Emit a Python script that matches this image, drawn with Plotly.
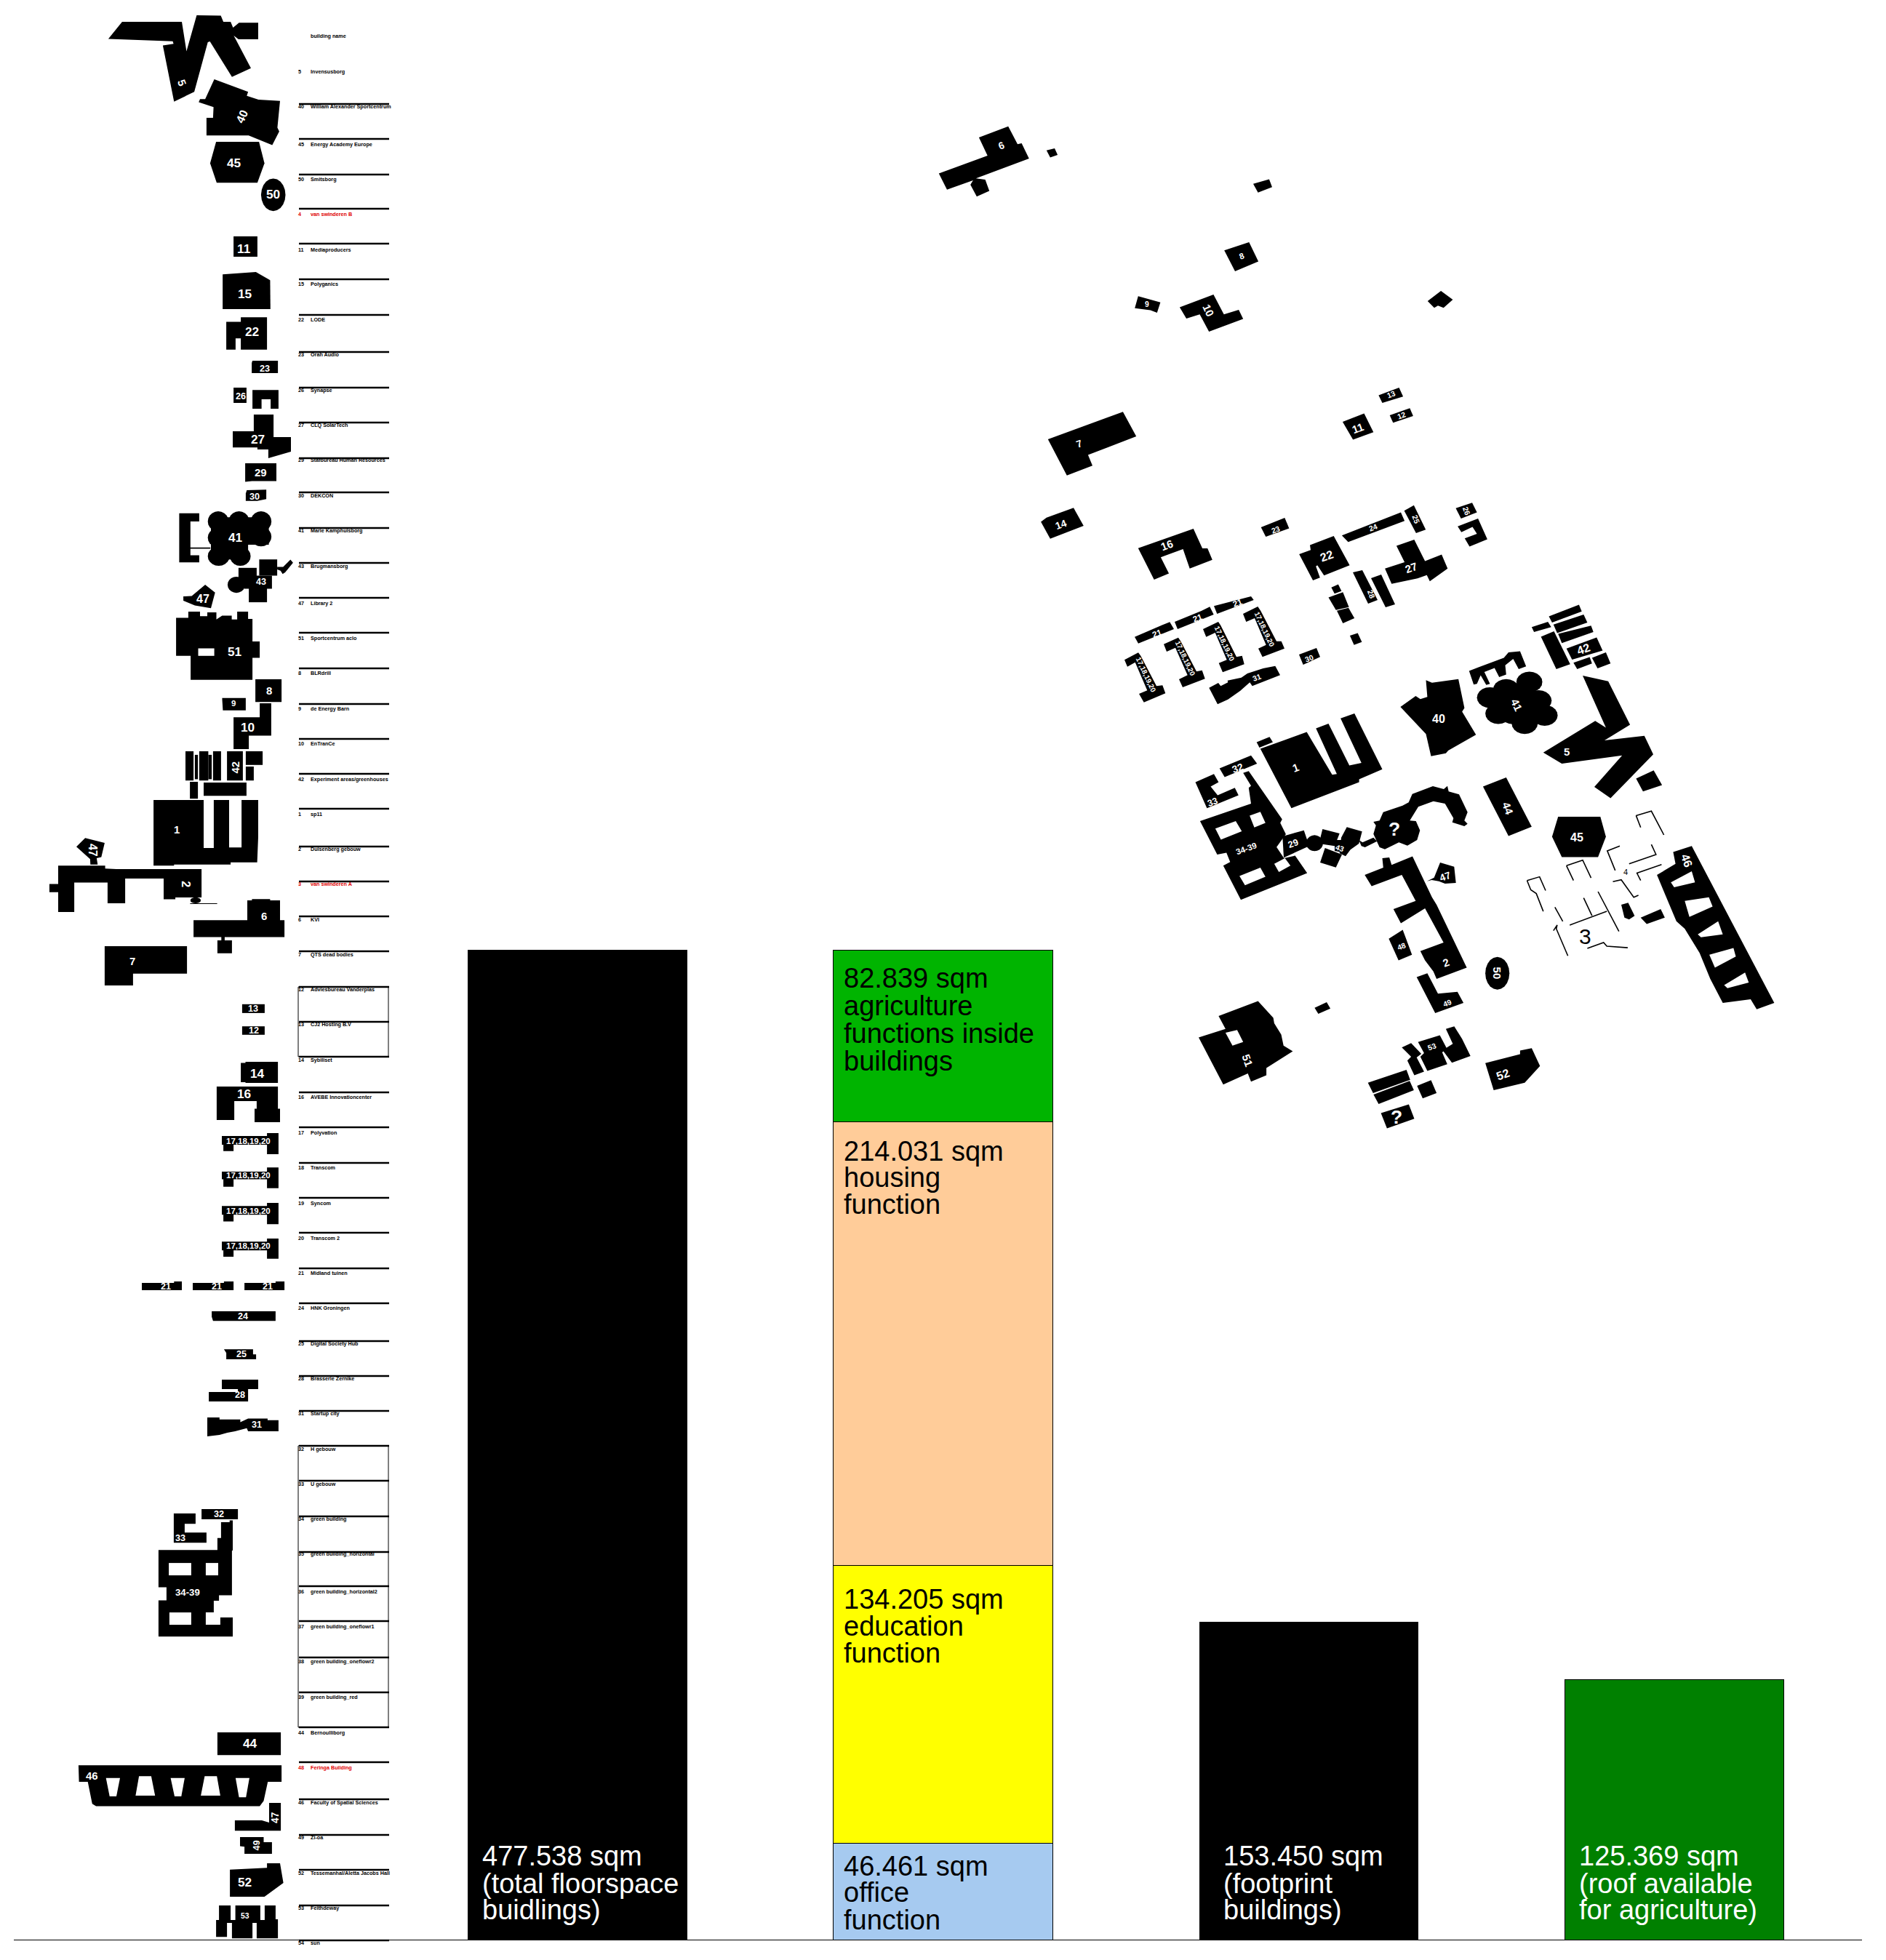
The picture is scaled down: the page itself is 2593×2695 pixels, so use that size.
import math
import plotly.graph_objects as go

W, H = 2593, 2695
PAGE_MARGIN = 8  # the page body's own margin

# ---------- chart values ----------
BAR_CATEGORIES = ["total floorspace", "functions", "footprint", "roof"]
TOTAL_FLOORSPACE = 477538
OFFICE = 46461
EDUCATION = 134205
HOUSING = 214031
AGRICULTURE = 82839
FOOTPRINT = 153450
ROOF = 125369

TABLE_NUMBERS = ["", "5", "40", "45", "50", "4", "11", "15", "22", "23", "26", "27", "29", "30", "41", "43", "47", "51", "8", "9", "10", "42", "1", "2", "3", "6", "7", "12", "13", "14", "16", "17", "18", "19", "20", "21", "24", "25", "28", "31", "32", "33", "34", "35", "36", "37", "38", "39", "44", "48", "46", "49", "52", "53", "54"]
TABLE_NAMES = ["building name", "Invensusborg", "William Alexander Sportcentrum", "Energy Academy Europe", "Smitsborg", "van swinderen B", "Mediaproducers", "Polyganics", "LODE", "Orah Audio", "Synapse", "CLQ SolarTech", "Stafbureau Human Resources", "DEKCON", "Marie Kamphuisborg", "Brugmansborg", "Library 2", "Sportcentrum aclo", "BLRdrill", "de Energy Barn", "EnTranCe", "Experiment areas/greenhouses", "sp11", "Duisenberg gebouw", "van swinderen A", "KVI", "QTS dead bodies", "Adviesbureau Vanderplas", "CJ2 Hosting B.V", "Sybiliset", "AVEBE Innovationcenter", "Polyvation", "Transcom", "Syncom", "Transcom 2", "Midland tuinen", "HNK Groningen", "Digital Society Hub", "Brasserie Zernike", "Startup city", "H gebouw", "U gebouw", "green building", "green building_horizontal", "green building_horizontal2", "green building_oneflowr1", "green building_oneflowr2", "green building_red", "Bernoulliborg", "Feringa Building", "Faculty of Spatial Sciences", "Zi-oa", "Tessemanhal/Aletta Jacobs Hall", "Feithdeway", "sun"]
TABLE_RED = {"4", "3", "48"}

# ---------- layout constants ----------
TABLE_Y = [50, 99, 147, 199, 247, 295, 344, 391.5, 440, 488, 537, 585, 633, 682, 730, 779, 830, 878, 926, 975, 1023, 1072, 1120, 1168, 1216.5, 1265, 1313, 1361, 1409, 1458, 1509, 1558, 1606, 1655, 1703, 1751, 1799, 1848, 1896, 1944, 1993, 2041, 2089, 2137, 2189, 2237, 2285, 2334, 2383, 2431, 2479, 2527, 2576, 2624, 2672]
RULE_Y = [143, 191, 240, 287, 335, 384, 433, 484, 533, 581, 630, 677, 726, 774, 822, 870, 919, 968, 1016, 1064, 1112, 1164, 1212, 1260, 1308, 1357, 1405, 1453, 1502, 1550, 1599, 1647, 1695, 1744, 1792, 1844, 1892, 1940, 1988, 2036, 2085, 2134, 2181, 2229, 2279, 2327, 2375, 2423, 2474, 2523, 2571, 2620, 2668]

BASE_PX = 2667
PX_PER_SQM = 0.00285
BAR0 = 794
BAR_STEP = 502.7

Z1 = (0, 0, 2.8, 2.24)
Z2 = (0, 700, 2.8, 2.24)
Z3 = (0, 1400, 2.8, 2.412)
Z4 = (0, 2045, 2.8, 2.412)
Z5 = (1250, 130, 1.96, 2.24)
Z6 = (1500, 800, 1.568, 1.96)
Z7 = (1720, 1060, 3, 3)
Z8 = (1540, 820, 3, 3)


def R(a, b, c, d):
    return [(a, b), (c, b), (c, d), (a, d)]


def E(cx, cy, rx, ry, n=20):
    return [(cx + rx * math.cos(2 * math.pi * i / n), cy + ry * math.sin(2 * math.pi * i / n)) for i in range(n)]


SOLID = {
    Z1: [
        [(417,120),(470,67),(700,67),(718,158),(757,47),(850,48),(860,67),(888,67),(897,85),(920,70),(994,70),(994,121),(918,121),(900,110),(966,210),(893,237),(808,128),(800,130),(748,283),(670,313),(627,140),(668,135),(665,127)],
        [(825,244),(955,283),(950,295),(995,307),(1078,311),(1068,393),(1075,405),(1048,447),(957,417),(795,417),(795,363),(820,363),(822,330),(765,315),(770,305),(790,305)],
        [(832,437),(997,437),(1018,503),(991,563),(834,563),(809,503)],
        E(1052,600,47,50),
        R(899,728,991,791),
        [(857,845),(985,838),(1040,863),(1041,952),(857,952)],
        [(871,991),(927,991),(927,977),(1028,977),(1028,1077),(927,1077),(927,1042),(907,1042),(907,1077),(871,1077)],
        [(972,1111),(1070,1111),(1070,1149),(969,1149),(969,1118)],
        R(899,1194,949,1241),
        [(972,1201),(1072,1201),(1072,1259),(1042,1259),(1042,1230),(1007,1230),(1007,1259),(972,1259)],
        [(977,1277),(1053,1277),(1053,1346),(1120,1346),(1120,1391),(1033,1411),(1033,1384),(991,1384),(991,1378),(896,1378),(896,1328),(977,1328)],
        [(944,1427),(1064,1427),(1064,1482),(970,1482),(944,1484)],
        [(950,1510),(1025,1508),(1025,1537),(990,1543),(946,1543),(946,1520)],
    ],
    Z2: [
        [(690,13),(767,13),(767,38),(733,38),(733,118),(810,118),(810,122),(733,122),(733,142),(767,142),(767,164),(690,164)],
        E(840,38,40,31),E(920,38,40,31),E(1005,38,40,31),E(840,88,40,30),E(925,85,45,35),E(1005,85,40,30),E(842,145,42,30),E(925,145,40,30),
        R(812,25,1035,110),R(812,110,955,155),
        E(910,233,34,25),R(918,181,988,240),R(998,155,1067,205),R(958,240,1028,287),R(940,205,1047,245),
        [(1067,178),(1090,178),(1118,156),(1128,165),(1098,195),(1088,200),(1080,190),(1067,186)],
        [(790,233),(828,257),(812,305),(750,297),(706,282),(706,269),(738,268)],
        [(678,335),(725,335),(725,316),(770,316),(770,330),(798,330),(798,318),(833,318),(833,340),(855,328),(892,328),(892,340),(913,340),(913,316),(955,316),(955,338),(972,338),(972,408),(1000,408),(1000,458),(972,458),(972,526),(734,526),(734,452),(678,452)],
        R(983,524,1084,594),
        [(855,582),(946,582),(946,620),(858,620)],
        [(1000,598),(1044,598),(1044,698),(958,698),(958,739),(899,739),(899,641),(1000,641)],
        R(714,746,745,836),R(750,757,762,832),R(767,746,802,836),R(802,757,815,832),R(820,746,851,836),R(874,746,935,836),R(946,746,1011,788),R(946,793,977,836),R(731,840,762,892),R(784,842,949,883),
        [(591,896),(784,896),(784,1044),(823,1044),(823,896),(882,896),(882,1042),(930,1042),(930,896),(994,896),(994,1010),(990,1088),(888,1088),(888,1095),(670,1095),(670,1098),(591,1098)],
        [(328,1013),(403,1028),(390,1072),(372,1075),(376,1095),(348,1095),(347,1078),(294,1040)],
        [(224,1098),(405,1098),(405,1107),(448,1109),(776,1109),(776,1196),(675,1196),(675,1202),(630,1202),(630,1138),(482,1138),(482,1214),(414,1214),(414,1150),(286,1150),(286,1241),(224,1241),(224,1180),(190,1180),(190,1155),(224,1155)],
        E(753,1205,20,9),R(732,1214,836,1216),
        [(952,1205),(970,1205),(970,1201),(1040,1201),(1040,1205),(1078,1205),(1078,1266),(1095,1266),(1095,1318),(865,1318),(865,1328),(893,1328),(893,1368),(837,1368),(837,1328),(852,1328),(852,1318),(745,1318),(745,1266),(952,1266)],
        [(403,1346),(720,1346),(720,1431),(512,1431),(512,1467),(403,1467)],
        R(932,1525,1019,1552),
    ],
    Z3: [
        R(932,27,1019,55),
        [(945,145),(1070,145),(1070,215),(945,215),(945,212),(927,212),(927,148),(945,148)],
        [(834,227),(1070,227),(1070,300),(1078,300),(1078,345),(980,345),(980,300),(988,300),(988,275),(902,275),(902,338),(834,338)],
        [(1028,381),(1072,381),(1072,451),(1028,451),(1028,420),(899,420),(899,441),(860,441),(860,420),(854,420),(854,391),(1028,391)],
        [(1028,495),(1072,495),(1072,564),(1028,564),(1028,534),(899,534),(899,559),(860,559),(860,534),(854,534),(854,509),(1028,509)],
        [(1028,613),(1072,613),(1072,683),(1028,683),(1028,652),(899,652),(899,674),(860,674),(860,652),(854,652),(854,623),(1028,623)],
        [(1028,731),(1072,731),(1072,798),(1028,798),(1028,770),(899,770),(899,791),(860,791),(860,770),(854,770),(854,741),(1028,741)],
        [(546,878),(670,878),(670,873),(700,873),(700,902),(546,902)],
        [(742,878),(862,878),(862,873),(899,873),(899,902),(742,902)],
        [(941,878),(1061,878),(1061,873),(1095,873),(1095,902),(941,902)],
        [(815,972),(1061,972),(1061,1004),(820,1004),(815,990)],
        [(862,1098),(974,1098),(974,1115),(986,1115),(986,1131),(871,1131),(871,1110)],
        [(854,1199),(994,1199),(994,1230),(955,1230),(955,1271),(804,1271),(804,1240),(916,1240),(916,1230),(854,1230)],
        [(798,1324),(845,1324),(845,1331),(925,1331),(925,1340),(955,1328),(1030,1328),(1030,1333),(1072,1333),(1072,1370),(955,1370),(950,1360),(905,1370),(875,1375),(845,1382),(798,1387)],
    ],
    Z4: [
        R(776,72,916,106),
        [(669,87),(753,87),(753,121),(711,121),(711,150),(795,150),(795,184),(669,184)],
        [(884,110),(896,110),(896,210),(893,210),(893,358),(843,358),(843,376),(823,376),(823,415),(792,415),(792,456),(848,456),(848,432),(896,432),(896,495),(610,495),(610,375),(641,375),(641,332),(610,332),(610,208),(837,208),(837,168),(851,168),(851,116),(884,116)],
        R(837,813,1081,888),
        [(302,922),(1084,922),(1084,977),(1031,977),(1015,1040),(1000,1058),(370,1058),(355,1050),(338,977),(304,977)],
        [(904,1105),(1008,1105),(1036,1112),(1036,1047),(1081,1047),(1081,1139),(904,1139)],
        [(924,1160),(1015,1160),(1015,1177),(1047,1177),(1047,1216),(941,1216),(941,1192),(924,1190)],
        [(885,1268),(1028,1262),(1028,1247),(1078,1247),(1091,1312),(1018,1358),(885,1358)],
        [(843,1387),(888,1387),(888,1435),(906,1435),(906,1387),(1002,1387),(1002,1435),(1019,1435),(1019,1387),(1061,1387),(1061,1433),(1070,1433),(1070,1496),(988,1496),(988,1445),(972,1445),(972,1496),(893,1496),(893,1445),(874,1445),(874,1491),(832,1491),(832,1435),(843,1435)],
    ],
    Z5: [
        [(80,243),(211,188),(188,132),(267,98),(292,153),(303,150),(323,197),(180,258),(205,262),(216,297),(182,314),(165,278),(172,264),(102,293)],
        [(370,172),(392,166),(400,186),(380,194)],
        [(927,275),(970,261),(978,285),(940,302)],
        [(849,480),(916,455),(941,514),(878,544)],
        [(617,621),(677,640),(668,672),(650,664),(608,658)],
        [(729,655),(820,616),(848,677),(888,663),(900,691),(808,730),(783,677),(747,690)],
        [(1397,636),(1433,605),(1465,632),(1440,657),(1425,650),(1415,657)],
        [(374,1062),(576,977),(612,1053),(482,1110),(494,1143),(425,1173)],
        [(1265,926),(1320,903),(1331,930),(1275,950)],
        [(1295,988),(1349,966),(1358,990),(1304,1011)],
        [(1168,1008),(1226,982),(1251,1040),(1196,1063)],
        [(355,1316),(370,1303),(443,1273),(470,1328),(380,1368)],
        [(948,1333),(1012,1304),(1024,1336),(961,1362)],
        [(617,1397),(766,1337),(790,1398),(804,1398),(817,1433),(756,1460),(738,1400),(678,1425),(700,1475),(660,1494)],
        [(1051,1416),(1082,1403),(1080,1388),(1144,1360),(1187,1450),(1118,1481),(1100,1450),(1096,1453),(1107,1488),(1088,1496)],
        [(1166,1358),(1325,1287),(1335,1313),(1183,1378)],
        [(1334,1282),(1360,1265),(1392,1340),(1366,1351)],
        [(1473,1274),(1517,1257),(1530,1287),(1487,1306)],
        [(1478,1330),(1533,1306),(1558,1370),(1510,1392),(1497,1367),(1530,1353),(1518,1332),(1488,1348)],
        [(1313,1390),(1361,1371),(1390,1437),(1435,1417),(1451,1460),(1403,1499),(1395,1480),(1370,1490),(1300,1507),(1282,1460),(1335,1440)],
    ],
    (0, 0, 1, 1): [
        [(1860,787),(1873,784),(1894,825),(1881,830)],
        [(1885,795),(1899,790),(1918,831),(1905,835)],
    ],
    Z8: [
        [(18,262),(75,232),(85,245),(150,370),(175,367),(187,400),(98,437),(78,402),(112,388),(62,272),(30,290)],
        [(180,197),(240,170),(250,185),(315,310),(338,305),(350,340),(258,375),(243,342),(278,325),(228,212),(192,228)],
        [(342,135),(405,105),(415,120),(480,250),(503,245),(512,280),(423,313),(407,275),(440,262),(392,150),(355,167)],
        [(507,72),(568,42),(580,60),(645,185),(665,185),(678,215),(587,250),(570,215),(602,200),(555,90),(520,105)],
        [(60,167),(175,118),(205,106),(222,135),(75,194)],
        [(225,105),(335,60),(370,43),(386,75),(237,135)],
        [(387,40),(540,0),(551,15),(400,72)],
        [(738,240),(810,213),(825,250),(755,282)],
        [(367,377),(405,357),(415,370),(445,355),(443,347),(500,335),(525,318),(590,297),(640,287),(660,325),(545,370),(535,355),(495,390),(445,425),(402,445)],
    ],
    Z7: [
        [(130,270),(218,245),(240,310),(135,358)],
        E(262,298,35,33),
        [(295,240),(365,258),(345,310),(280,300)],
        [(395,232),(458,250),(445,300),(410,325),(390,352),(365,340),(372,275)],
        [(305,318),(375,345),(350,398),(285,378)],
        [(345,285),(385,285),(395,340),(345,330)],
        [(445,285),(460,295),(505,275),(520,290),(470,315),(455,310)],
        [(545,170),(625,143),(650,130),(665,95),(750,63),(795,75),(810,62),(815,85),(858,97),(893,170),(880,205),(893,218),(880,228),(830,212),(835,195),(800,135),(752,125),(690,148),(655,205),(680,207),(697,245),(685,285),(645,308),(610,295),(552,323),(530,315),(505,260),(515,225),(505,210),(530,205)],
        [(780,378),(838,395),(845,462),(800,465),(775,455),(745,450),(725,455),(755,440)],
    ],
    Z6: [
        [(518,15),(533,7),(540,25),(525,32)],
        [(512,42),(543,28),(556,68),(528,76)],
        [(530,78),(555,70),(568,98),(543,112)],
        [(558,145),(575,138),(584,162),(567,170)],
        [(667,337),(700,308),(710,316),(725,310),(722,265),(735,272),(792,262),(805,340),(800,350),(830,412),(770,455),(765,462),(733,470),(722,410)],
        [(815,240),(890,205),(900,190),(925,187),(938,228),(922,235),(910,208),(893,225),(895,250),(880,257),(870,232),(848,243),(860,275),(852,278),(840,252),(832,275),(825,277)],
        E(945,270,28,28),E(965,320,28,28),E(978,360,28,28),E(935,382,28,28),E(878,355,28,28),E(860,312,28,28),E(895,290,28,28),E(918,330,55,55),
        [(987,93),(1052,62),(1058,80),(994,110)],
        [(997,115),(1062,88),(1070,110),(1005,138)],
        [(1007,140),(1078,118),(1083,135),(1015,165)],
        [(1025,180),(1090,150),(1103,185),(1037,210)],
        [(1040,218),(1075,203),(1080,220),(1048,235)],
        [(1080,205),(1110,190),(1120,220),(1092,233)],
        [(950,122),(985,108),(992,122),(955,135)],
        [(970,148),(998,133),(1033,222),(1003,235)],
        [(1060,253),(1115,268),(1162,385),(1107,427),(1193,415),(1212,465),(1120,583),(1085,553),(1145,468),(1015,490),(975,460),(1087,375),(1110,393)],
        [(1175,530),(1213,508),(1231,548),(1190,565)],
        [(365,450),(465,405),(520,520),(530,518),(485,395),(512,382),(557,495),(583,488),(538,368),(568,355),(628,505),(578,532),(578,540),(432,610)],
        [(357,432),(385,418),(392,432),(363,447)],
        [(277,503),(345,468),(358,490),(288,526)],
        [(225,540),(265,518),(275,540),(258,552),(273,575),(310,555),(318,575),(250,610)],
        [(235,645),(345,598),(340,555),(345,550),(328,515),(340,510),(412,640),(408,650),(420,680),(400,715),(416,745),(440,738),(466,785),(323,857),(285,765),(300,755),(292,730),(272,735)],
        [(845,552),(895,527),(950,660),(900,685)],
        [(1007,633),(1098,633),(1110,687),(1093,742),(1015,742),(994,687)],
        [(1143,870),(1158,865),(1172,900),(1160,910),(1150,905)],
        [(1185,905),(1228,882),(1237,905),(1198,922)],
        [(1255,728),(1295,712),(1473,1135),(1435,1152),(1422,1125),(1362,1135),(1335,1070),(1312,1000),(1280,935),(1262,915),(1220,790),(1260,760)],
        [(590,790),(630,770),(628,745),(643,743),(648,763),(693,740),(735,850),(745,870),(810,1040),(745,1070),(738,1050),(720,1020),(710,995),(760,972),(720,880),(668,920),(652,882),(700,860),(670,790),(605,820)],
        [(642,962),(672,938),(692,1005),(663,1020)],
        [(702,1065),(725,1055),(748,1110),(790,1105),(803,1135),(742,1162)],
        E(876,1055,26,44),
        [(482,1148),(508,1133),(516,1150),(490,1164)],
        [(275,1170),(360,1130),(393,1175),(395,1190),(410,1220),(415,1250),(435,1265),(378,1310),(378,1330),(345,1347),(338,1325),(285,1355),(232,1228),(290,1205)],
        [(670,1255),(690,1243),(712,1272),(702,1282),(718,1320),(697,1330),(682,1290),(690,1280)],
        [(705,1240),(752,1222),(767,1258),(757,1268),(768,1300),(725,1318),(710,1280),(718,1270)],
        [(765,1205),(783,1198),(800,1232),(818,1278),(778,1296),(758,1262),(780,1245)],
        [(850,1297),(925,1273),(925,1263),(950,1257),(968,1305),(935,1350),(868,1370)],
        [(597,1350),(680,1315),(688,1342),(608,1378)],
        [(609,1382),(687,1345),(696,1370),(620,1407)],
        [(703,1358),(733,1343),(745,1378),(715,1392)],
        [(625,1432),(685,1408),(697,1447),(638,1473)],
    ],
}

HOLES = {
    Z2: [R(763,429,825,452)],
    Z4: [
        R(650,251,736,292),R(792,251,840,292),R(652,415,736,456),
        [(408,964),(462,964),(448,1025),(422,1025)],
        [(535,958),(582,958),(597,1023),(522,1023)],
        [(657,964),(711,964),(698,1025),(672,1025)],
        [(788,958),(835,958),(848,1023),(773,1023)],
        [(907,964),(960,964),(947,1028),(920,1028)],
    ],
    Z6: [
        [(268,665),(312,645),(325,672),(280,695)],
        [(342,630),(365,620),(376,650),(352,662)],
        [(320,793),(365,770),(376,795),(332,818)],
        [(395,760),(418,745),(430,765),(405,782)],
        [(1250,810),(1295,780),(1302,810),(1257,823)],
        [(1280,860),(1332,850),(1340,875),(1290,903)],
        [(1308,950),(1352,915),(1362,950),(1315,958)],
        [(1333,1005),(1385,987),(1390,1010),(1345,1040)],
        [(1365,1087),(1410,1053),(1418,1080),(1372,1095)],
        [(290,1215),(315,1208),(328,1240),(305,1250)],
    ],
}

WIRES_Z6 = [
    [(1175,630),(1208,618),(1235,682)],[(1175,630),(1185,662)],
    [(1140,712),(1113,725),(1130,778)],[(1208,708),(1218,735),(1160,760)],
    [(1025,765),(1060,750),(1078,798)],[(1025,765),(1040,805)],
    [(1230,762),(1177,785),(1185,805)],[(940,805),(967,795),(980,832)],
    [(940,805),(948,830),(960,840),(975,888)],[(1125,808),(1143,803),(1170,850),(1180,845)],
    [(1000,877),(1017,915)],[(1062,852),(1080,900)],[(1093,835),(1138,942)],
    [(1032,925),(1112,888)],[(997,940),(1005,925),(1003,935),(1028,1008)],
    [(1070,988),(1105,972),(1112,982),(1157,986)],
]

# text, x, y, size, angle, frame
BUILDING_TEXT = [
    ("5",700,255,13,70,Z1),("40",930,358,14,-65,Z1),("45",902,502,15,0,Z1),("50",1052,598,15,0,Z1),("11",940,765,15,0,Z1),("15",943,905,15,0,Z1),("22",969,1021,15,0,Z1),("23",1018,1136,11,0,Z1),("26",926,1220,11,0,Z1),("27",993,1354,15,0,Z1),("29",1003,1454,13,0,Z1),("30",980,1529,11,0,Z1),
    ("41",908,88,15,0,Z2),("43",1006,225,11,0,Z2),("47",780,275,14,0,Z2),("51",904,438,15,0,Z2),("8",1035,558,13,0,Z2),("9",898,599,10,0,Z2),("10",954,672,15,0,Z2),("42",906,795,13,-90,Z2),("1",681,986,13,0,Z2),("47",358,1050,14,90,Z2),("2",716,1156,14,90,Z2),("6",1016,1254,13,0,Z2),("7",509,1393,13,0,Z2),("13",975,1538,11,0,Z2),
    ("12",977,41,11,0,Z3),("14",991,183,15,0,Z3),("16",940,250,15,0,Z3),("17,18,19,20",957,407,10,0,Z3),("17,18,19,20",957,522,10,0,Z3),("17,18,19,20",957,640,10,0,Z3),("17,18,19,20",957,756,10,0,Z3),("21",637,891,11,0,Z3),("21",834,891,11,0,Z3),("21",1029,891,11,0,Z3),("24",935,988,11,0,Z3),("25",929,1114,11,0,Z3),("28",924,1250,11,0,Z3),("31",987,1348,11,0,Z3),
    ("32",843,90,11,0,Z4),("33",694,168,11,0,Z4),("34-39",722,348,11.5,0,Z4),("44",962,849,15,0,Z4),("46",355,956,13,0,Z4),("47",1061,1095,12,-90,Z4),("49",988,1188,11,-90,Z4),("52",942,1310,15,0,Z4),("53",943,1422,9,0,Z4),
    ("6",248,158,12,-20,Z5),("8",897,498,10,-20,Z5),("9",640,646,9,0,Z5),("10",806,665,13,65,Z5),("7",458,1077,12,-20,Z5),("13",1299,925,9,-20,Z5),("12",1327,988,9,-20,Z5),("11",1210,1028,13,-20,Z5),("14",409,1325,12,-20,Z5),("23",987,1340,9,-20,Z5),("16",694,1388,13,-20,Z5),("22",1125,1420,14,-20,Z5),("24",1250,1333,9,-20,Z5),("25",1365,1310,9,70,Z5),("26",1501,1283,9,70,Z5),("27",1353,1458,13,-20,Z5),("28",1245,1540,9,70,Z5),
    ("21",152,152,10,-20,Z8),("21",318,90,10,-20,Z8),("21",485,28,10,-20,Z8),("17,18,19,20",107,322,8.5,65,Z8),("17,18,19,20",270,255,8.5,65,Z8),("17,18,19,20",433,195,8.5,65,Z8),("17,18,19,20",597,135,8.5,65,Z8),("30",780,255,9,-20,Z8),("31",565,333,9,-20,Z8),
    ("42",1062,181,14,-20,Z6),("40",749,368,14,0,Z6),("41",918,332,13,65,Z6),("5",1026,457,13,0,Z6),("1",440,500,13,-20,Z6),("32",316,502,12,-20,Z6),("33",262,593,11,-20,Z6),("34-39",334,720,10,-20,Z6),
    ("29",175,300,11,-20,Z7),("43",367,320,9,20,Z7),("?",592,240,23,0,Z7),("47",800,435,12,-20,Z7),
    ("44",899,610,13,70,Z6),("45",1047,687,14,0,Z6),("46",1285,750,14,70,Z6),("48",669,982,9,-20,Z6),("2",765,1027,13,-20,Z6),("49",768,1135,9,-20,Z6),("50",876,1055,13,90,Z6),("51",338,1290,13,70,Z6),("53",735,1253,9,-20,Z6),("52",888,1326,14,-20,Z6),("?",659,1442,23,0,Z6),
]

# bar captions: list of (lines, x, [line y], colour)
BAR_TEXT = [
    (["477.538 sqm", "(total floorspace", "buidlings)"], 661, [2552, 2590, 2626], "white"),
    (["82.839 sqm", "agriculture", "functions inside", "buildings"], 1158, [1345, 1383, 1421, 1459], "black"),
    (["214.031 sqm", "housing", "function"], 1158, [1583, 1619, 1656], "black"),
    (["134.205 sqm", "education", "function"], 1158, [2199, 2236, 2273], "black"),
    (["46.461 sqm", "office", "function"], 1158, [2566, 2602, 2640], "black"),
    (["153.450 sqm", "(footprint", "buildings)"], 1680, [2552, 2590, 2626], "white"),
    (["125.369 sqm", "(roof available", "for agriculture)"], 2169, [2552, 2590, 2626], "white"),
]


def to_px(frame, pt):
    ox, oy, sx, sy = frame
    return ox + pt[0] / sx, oy + pt[1] / sy


def path(frame, pts, close=True):
    p = [to_px(frame, q) for q in pts]
    s = "M" + " L".join(f"{x:.1f},{y:.1f}" for x, y in p)
    return s + (" Z" if close else "")


shapes = []
for frame, polys in SOLID.items():
    for pts in polys:
        shapes.append(dict(type="path", xref="x", yref="y", path=path(frame, pts), fillcolor="black", line=dict(width=0), layer="above"))
for frame, polys in HOLES.items():
    for pts in polys:
        shapes.append(dict(type="path", xref="x", yref="y", path=path(frame, pts), fillcolor="white", line=dict(width=0), layer="above"))
for pts in WIRES_Z6:
    shapes.append(dict(type="path", xref="x", yref="y", path=path(Z6, pts, close=False), line=dict(width=1.6, color="black"), layer="above"))
for y0, y1 in [(1357, 1453), (1988, 2375)]:
    shapes.append(dict(type="rect", xref="x", yref="y", x0=410, x1=534, y0=y0, y1=y1, line=dict(width=1, color="black"), layer="above"))

fig = go.Figure()

# table rules and labels
rx, ry = [], []
for y in RULE_Y:
    rx += [411, 535, None]
    ry += [y, y, None]
fig.add_trace(go.Scatter(x=rx, y=ry, mode="lines", line=dict(color="black", width=2.6), hoverinfo="skip", xaxis="x", yaxis="y"))
row_colors = ["#e00000" if n in TABLE_RED else "black" for n in TABLE_NUMBERS]
fig.add_trace(go.Scatter(x=[410] * len(TABLE_NUMBERS), y=TABLE_Y, text=TABLE_NUMBERS, mode="text", textposition="middle right",
                         textfont=dict(family="Liberation Sans", size=7.2, color=row_colors, weight="bold"), xaxis="x", yaxis="y"))
fig.add_trace(go.Scatter(x=[427] * len(TABLE_NAMES), y=TABLE_Y, text=TABLE_NAMES, mode="text", textposition="middle right",
                         textfont=dict(family="Liberation Sans", size=7.2, color=row_colors, weight="bold"), xaxis="x", yaxis="y"))

# bars
BAR_LINE = dict(color="black", width=1)
cat0, cat1, cat2, cat3 = BAR_CATEGORIES
for name, cat, val, col, ln in [
    ("total floorspace", cat0, TOTAL_FLOORSPACE, "#000000", None),
    ("office", cat1, OFFICE, "#A6CAF0", BAR_LINE),
    ("education", cat1, EDUCATION, "#FFFF00", BAR_LINE),
    ("housing", cat1, HOUSING, "#FFCC99", BAR_LINE),
    ("agriculture", cat1, AGRICULTURE, "#00B400", BAR_LINE),
    ("footprint", cat2, FOOTPRINT, "#000000", None),
    ("roof", cat3, ROOF, "#008000", BAR_LINE),
]:
    fig.add_trace(go.Bar(x=[cat], y=[val], name=name, width=0.6, marker=dict(color=col, line=ln or dict(width=0)), xaxis="x2", yaxis="y2"))

annotations = []
for lines, x, ys, col in BAR_TEXT:
    for t, y in zip(lines, ys):
        annotations.append(dict(text=t, x=x, y=y, xref="x", yref="y", xanchor="left", yanchor="middle", showarrow=False,
                                font=dict(family="Liberation Sans", size=38, color=col)))
for t, x, y, size, ang, frame in BUILDING_TEXT:
    px, py = to_px(frame, (x, y))
    annotations.append(dict(text=t, x=px, y=py, xref="x", yref="y", showarrow=False, textangle=ang, xanchor="center", yanchor="middle",
                            font=dict(family="Liberation Sans", size=size * 1.15, color="white", weight="bold")))
for t, x, y, size in [("3", 1065, 955, 30), ("4", 1152, 782, 11)]:
    px, py = to_px(Z6, (x, y))
    annotations.append(dict(text=t, x=px, y=py, xref="x", yref="y", showarrow=False, font=dict(family="Liberation Sans", size=size, color="black")))

M = PAGE_MARGIN
PW, PH = W - 2 * M, H - 2 * M  # plot area: page pixel p sits at axis value p
fig.update_layout(
    width=PW, height=PH, autosize=False, margin=dict(l=0, r=0, t=0, b=0), paper_bgcolor="white", plot_bgcolor="rgba(0,0,0,0)",
    showlegend=False, barmode="stack", shapes=shapes, annotations=annotations,
    xaxis=dict(domain=[0, 1], range=[M, W - M], visible=False, fixedrange=True),
    yaxis=dict(domain=[0, 1], range=[H - M, M], visible=False, fixedrange=True),
    xaxis2=dict(domain=[(19 - M) / PW, (2560 - M) / PW], anchor="y2", type="category", categoryorder="array", categoryarray=BAR_CATEGORIES,
                range=[(19 - BAR0) / BAR_STEP, (2560 - BAR0) / BAR_STEP], showline=True, linecolor="black", linewidth=1,
                showticklabels=False, ticks="", showgrid=False, zeroline=False, fixedrange=True),
    yaxis2=dict(domain=[(H - M - BASE_PX) / PH, 1], anchor="x2", range=[0, (BASE_PX - M) / PX_PER_SQM], visible=False, showgrid=False, zeroline=False, fixedrange=True),
)
fig.write_html("out.html")
